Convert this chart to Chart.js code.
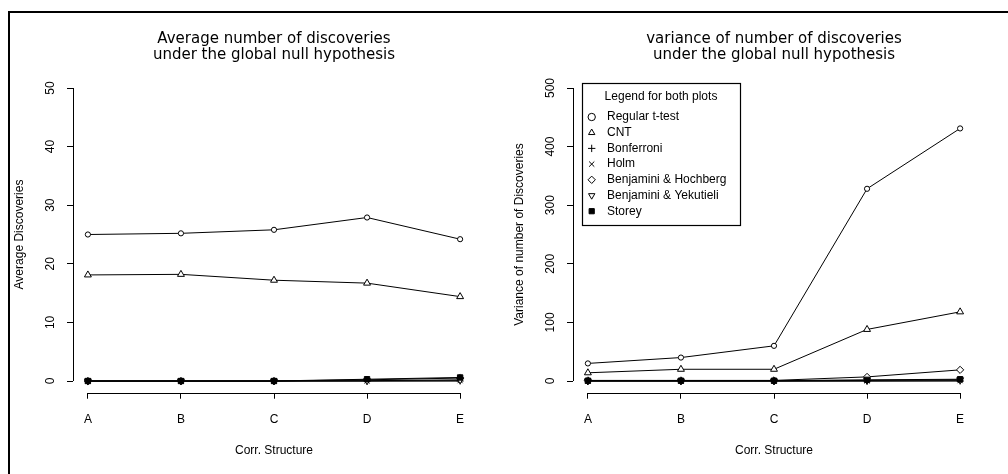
<!DOCTYPE html>
<html><head><meta charset="utf-8">
<script src="https://cdn.jsdelivr.net/npm/chart.js@4.4.1/dist/chart.umd.min.js"></script>
<style>
html,body{margin:0;padding:0;background:#fff;width:1008px;height:474px;overflow:hidden;}
#frame{position:absolute;left:8px;top:11px;width:1100px;height:600px;border-top:2px solid #000;border-left:2px solid #000;}
#c1{position:absolute;left:0;top:0;}
#c2{position:absolute;left:500px;top:0;}
</style></head><body>
<div id="frame"></div>
<canvas id="c1" width="500" height="474"></canvas>
<canvas id="c2" width="508" height="474"></canvas>
<script>
// ---- data ----
const categories = ['A', 'B', 'C', 'D', 'E'];
const seriesNames = ['Regular t-test', 'CNT', 'Bonferroni', 'Holm', 'Benjamini & Hochberg', 'Benjamini & Yekutieli', 'Storey'];

const avgRegular = [25.0, 25.2, 25.8, 27.9, 24.2];
const avgCNT     = [18.1, 18.2, 17.2, 16.7, 14.4];
const avgBonf    = [0, 0, 0, 0, 0];
const avgHolm    = [0, 0, 0, 0, 0.05];
const avgBH      = [0, 0, 0, 0.2, 0.5];
const avgBY      = [0, 0, 0, 0.05, 0.2];
const avgStorey  = [0, 0, 0, 0.3, 0.6];

const varRegular = [30, 40, 60, 328, 431];
const varCNT     = [14, 20, 20, 88, 118];
const varBonf    = [0, 0, 0, 0, 0];
const varHolm    = [0, 0, 0, 0, 0.5];
const varBH      = [1, 1, 1, 7, 19];
const varBY      = [0, 0, 0, 1, 2];
const varStorey  = [0.5, 0.5, 0.5, 2, 3];

const avgTicks = [0, 10, 20, 30, 40, 50];
const varTicks = [0, 100, 200, 300, 400, 500];

// ---- styles ----
const markerStyles = [
  {pointStyle: 'circle',   radius: 2.6, fill: '#fff', rot: 0},
  {pointStyle: 'triangle', radius: 4,   fill: '#fff', rot: 0},
  {pointStyle: 'cross',    radius: 3.5, fill: '#fff', rot: 0},
  {pointStyle: 'crossRot', radius: 3.5, fill: '#fff', rot: 0},
  {pointStyle: 'rectRot',  radius: 3.6, fill: '#fff', rot: 0},
  {pointStyle: 'triangle', radius: 4,   fill: '#fff', rot: 180},
  {pointStyle: 'rect',     radius: 3.8, fill: '#000', rot: 0}
];
const FONT = 'Liberation Sans';

function makeDatasets(seriesList) {
  return seriesList.map((vals, i) => {
    const m = markerStyles[i];
    return {
      label: seriesNames[i],
      data: vals.map((v, k) => ({x: k + 1, y: v})),
      borderColor: '#000',
      backgroundColor: m.fill,
      borderWidth: 1,
      pointStyle: m.pointStyle,
      pointRadius: m.radius,
      pointRotation: m.rot,
      pointBorderWidth: 1,
      pointBackgroundColor: m.fill,
      pointBorderColor: '#000',
      tension: 0,
      fill: false,
      order: seriesList.length - 1 - i
    };
  });
}

const rAxes = {
  id: 'rAxes',
  afterDraw(chart) {
    const {ctx, chartArea: a} = chart;
    const xs = chart.scales.x, ys = chart.scales.y;
    const lx = Math.round(a.left) + 0.5, by = Math.round(a.bottom) + 0.5;
    ctx.save();
    ctx.strokeStyle = '#000';
    ctx.lineWidth = 1;
    ctx.beginPath();
    ctx.moveTo(lx, ys.getPixelForValue(ys.ticks[0].value));
    ctx.lineTo(lx, ys.getPixelForValue(ys.ticks[ys.ticks.length - 1].value));
    ctx.moveTo(xs.getPixelForValue(xs.ticks[0].value), by);
    ctx.lineTo(xs.getPixelForValue(xs.ticks[xs.ticks.length - 1].value), by);
    ctx.stroke();
    ctx.restore();
  }
};

const legendPlace = {
  id: 'legendPlace',
  afterLayout(chart, args, o) {
    const lg = chart.legend;
    if (!lg || !lg.options.display || !o || o.left == null) return;
    lg.left = o.left; lg.top = o.top;
    lg.width = o.width; lg.height = o.height;
    lg.right = o.left + o.width; lg.bottom = o.top + o.height;
    lg.adjustHitBoxes();
  },
  afterDraw(chart, args, o) {
    if (!o || o.left == null) return;
    const ctx = chart.ctx;
    ctx.save();
    ctx.strokeStyle = '#000';
    ctx.lineWidth = 1.2;
    ctx.strokeRect(Math.round(o.left) + 0.5, Math.round(o.top) + 0.5, o.width, o.height);
    ctx.restore();
  }
};

function buildOptions(cfg) {
  const tickFont = {family: FONT, size: 12};
  return {
    responsive: false,
    animation: false,
    devicePixelRatio: 1,
    layout: {padding: {left: 8, right: cfg.padRight, top: 0, bottom: 0}},
    scales: {
      x: {
        type: 'linear',
        min: 0.84, max: 5.16,
        afterBuildTicks: s => { s.ticks = categories.map((c, i) => ({value: i + 1})); },
        afterFit: s => { s.height = 81.28; },
        ticks: {callback: v => categories[v - 1], autoSkip: false, maxRotation: 0, minRotation: 0,
                padding: 13.7, color: '#000', font: tickFont},
        grid: {display: true, drawOnChartArea: false, drawTicks: true, tickLength: 6, color: '#000', lineWidth: 1},
        border: {display: false},
        title: {display: true, text: 'Corr. Structure', color: '#000', font: tickFont, padding: {top: 0, bottom: 15.8}}
      },
      y: {
        type: 'linear',
        min: cfg.yMin, max: cfg.yMax,
        afterBuildTicks: s => { s.ticks = cfg.yTicks.map(v => ({value: v})); },
        afterFit: s => { s.width = 65; },
        ticks: {minRotation: 90, maxRotation: 90, crossAlign: 'center', padding: cfg.tickPad,
                autoSkip: false, color: '#000', font: tickFont},
        grid: {display: true, drawOnChartArea: false, drawTicks: true, tickLength: 6, color: '#000', lineWidth: 1},
        border: {display: false},
        title: {display: true, text: cfg.yTitle, color: '#000', font: tickFont, padding: {top: 4.3, bottom: 0}}
      }
    },
    plugins: {
      title: {
        display: true, text: cfg.title, fullSize: false, color: '#000',
        font: {family: 'DejaVu Sans', size: 15, weight: 'normal', lineHeight: 16.5 / 15},
        padding: {top: 30.5, bottom: 12.78}
      },
      legend: cfg.legend ? {
        display: true, position: 'chartArea', align: 'start',
        labels: {
          usePointStyle: true, boxHeight: 5.2, padding: 3.7, color: '#000', font: {family: FONT, size: 12},
          sort: (a, b) => a.datasetIndex - b.datasetIndex,
          generateLabels: chart => {
            const items = Chart.defaults.plugins.legend.labels.generateLabels(chart);
            items.forEach(it => { it.text = ' ' + it.text; });
            return items;
          }
        },
        title: {display: true, text: 'Legend for both plots', color: '#000', position: 'center',
                font: {family: FONT, size: 12}, padding: {top: 8, bottom: 1.9}}
      } : {display: false},
      legendPlace: cfg.legend ? {left: 82, top: 83, width: 158, height: 142} : {},
      tooltip: {enabled: false}
    }
  };
}

new Chart(document.getElementById('c1'), {
  type: 'line',
  data: {datasets: makeDatasets([avgRegular, avgCNT, avgBonf, avgHolm, avgBH, avgBY, avgStorey])},
  options: buildOptions({
    yMin: -2, yMax: 52, yTicks: avgTicks, tickPad: 9.3, padRight: 25,
    yTitle: 'Average Discoveries',
    title: ['Average number of discoveries', 'under the global null hypothesis'],
    legend: false
  }),
  plugins: [rAxes, legendPlace]
});

new Chart(document.getElementById('c2'), {
  type: 'line',
  data: {datasets: makeDatasets([varRegular, varCNT, varBonf, varHolm, varBH, varBY, varStorey])},
  options: buildOptions({
    yMin: -20, yMax: 520, yTicks: varTicks, tickPad: 6, padRight: 33,
    yTitle: 'Variance of number of Discoveries',
    title: ['variance of number of discoveries', 'under the global null hypothesis'],
    legend: true
  }),
  plugins: [rAxes, legendPlace]
});
</script>
</body></html>
